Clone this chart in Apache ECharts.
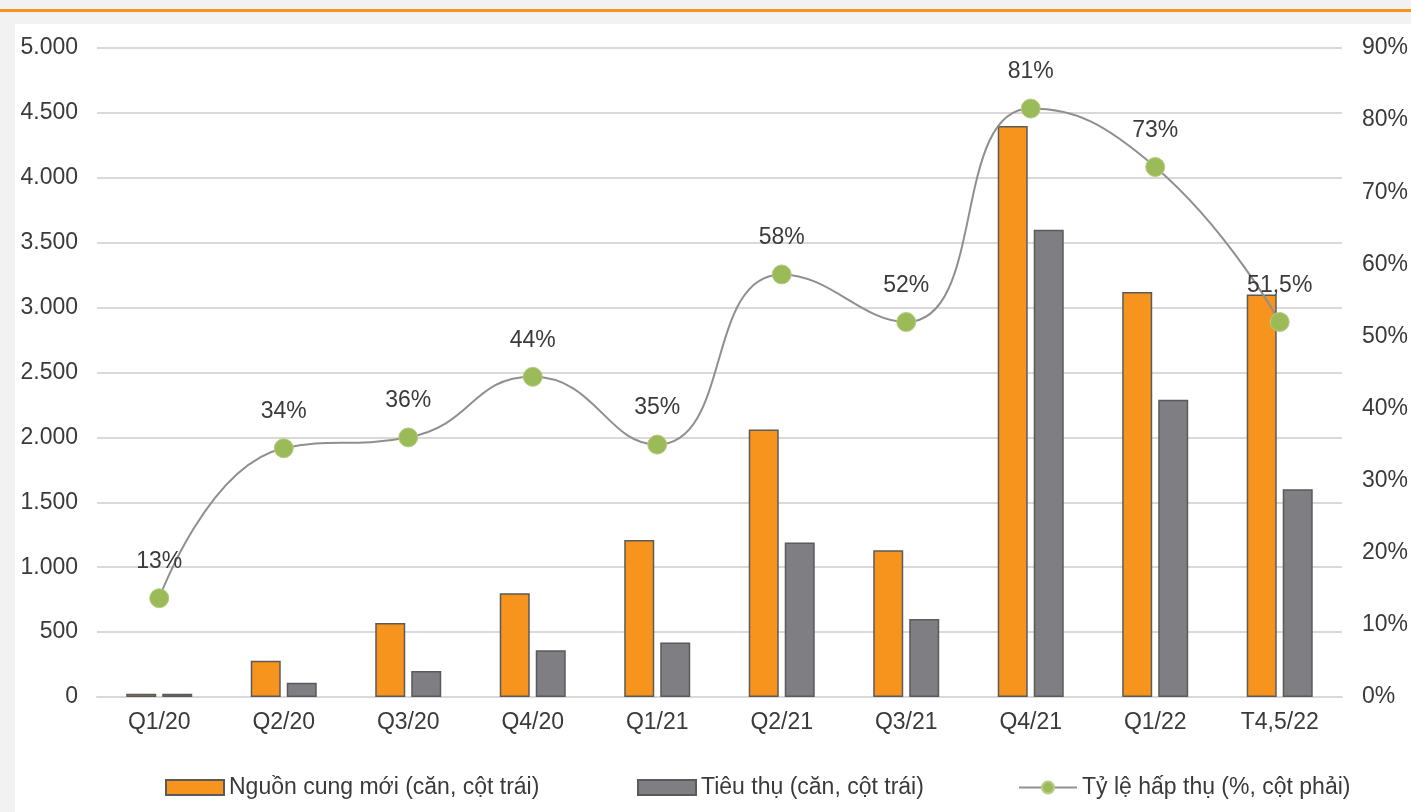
<!DOCTYPE html>
<html><head><meta charset="utf-8">
<script src="https://cdn.jsdelivr.net/npm/echarts@6/dist/echarts.min.js"></script>
<style>html,body{margin:0;padding:0;background:#f2f2f2}#c{width:1411px;height:812px}</style>
</head><body><div id="c"></div>
<script>
const categories = ['Q1/20','Q2/20','Q3/20','Q4/20','Q1/21','Q2/21','Q3/21','Q4/21','Q1/22','T4,5/22'];
const newSupply = [25, 280, 570, 800, 1210, 2060, 1130, 4400, 3120, 3100];
const sales = [25, 110, 200, 360, 420, 1190, 600, 3600, 2290, 1600];
const absorption = [13.7, 34.5, 36, 44.4, 35, 58.6, 52, 81.6, 73.5, 52];
const absorptionLabels = ['13%','34%','36%','44%','35%','58%','52%','81%','73%','51,5%'];
const seriesNames = ['Nguồn cung mới (căn, cột trái)','Tiêu thụ (căn, cột trái)','Tỷ lệ hấp thụ (%, cột phải)'];

const font = 'Liberation Sans, Arial, sans-serif';
const txt = '#3a3a3a';
const fs = 23;
const chart = echarts.init(document.getElementById('c'));
const legendBase = {itemWidth:58, itemHeight:15, top:771, textStyle:{fontFamily:font, fontSize:fs, color:txt}, itemGap:10};
chart.setOption({
  animation:false,
  backgroundColor:'#f2f2f2',
  graphic:[
    {type:'rect', shape:{x:15,y:24,width:1411,height:800}, style:{fill:'#ffffff'}, z:-10},
    {type:'rect', shape:{x:0,y:9,width:1411,height:3}, style:{fill:'#f7941d'}, z:-5}
  ],
  grid:{left:97, right:68, top:48, bottom:115},
  legend:[
    Object.assign({}, legendBase, {left:160, data:[{name:seriesNames[0], icon:'rect'}]}),
    Object.assign({}, legendBase, {left:632, data:[{name:seriesNames[1], icon:'rect'}]}),
    Object.assign({}, legendBase, {left:1013, data:[seriesNames[2]]})
  ],
  xAxis:{type:'category', data:categories,
    axisLine:{lineStyle:{color:'#d9d9d9', width:2}}, axisTick:{show:false},
    axisLabel:{fontFamily:font, fontSize:fs, color:txt, margin:14}},
  yAxis:[
    {type:'value', min:0, max:5000, interval:500, position:'left',
     axisLine:{show:false}, axisTick:{show:false},
     splitLine:{lineStyle:{color:'#d9d9d9', width:2}},
     axisLabel:{fontFamily:font, fontSize:fs, color:txt, margin:19,
       formatter:v=>String(v).replace(/\B(?=(\d{3})+(?!\d))/g,'.')}},
    {type:'value', min:0, max:90, interval:10, position:'right',
     axisLine:{show:false}, axisTick:{show:false}, splitLine:{show:false},
     axisLabel:{fontFamily:font, fontSize:fs, color:txt, margin:20, formatter:v=>v+'%'}}
  ],
  series:[
    {name:seriesNames[0], type:'bar', data:newSupply, barWidth:30, barGap:'20%',
     itemStyle:{color:'#f7941d', borderColor:'#5a5a5a', borderWidth:1.5}},
    {name:seriesNames[1], type:'bar', data:sales, barWidth:30, barGap:'20%',
     itemStyle:{color:'#7f7f83', borderColor:'#5a5a5a', borderWidth:1.5}},
    {name:seriesNames[2], type:'line', yAxisIndex:1, data:absorption, smooth:0.5, z:5,
     lineStyle:{color:'#8f8f8f', width:2}, symbol:'circle', symbolSize:19,
     itemStyle:{color:'#9bbb59', borderColor:'#b5cc85', borderWidth:1},
     label:{show:true, position:'top', distance:15, fontFamily:font, fontSize:fs, color:txt,
       formatter:p=>absorptionLabels[p.dataIndex]}}
  ]
});
</script></body></html>
